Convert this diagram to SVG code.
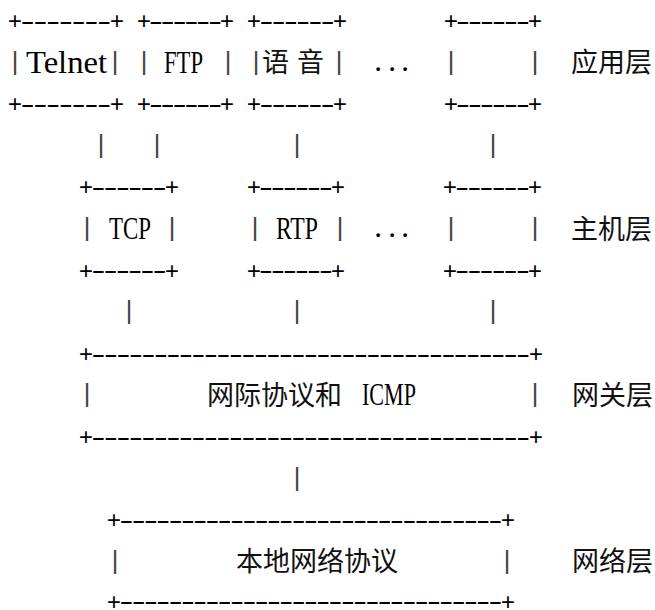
<svg xmlns="http://www.w3.org/2000/svg" width="655" height="610" viewBox="0 0 655 610">
<style>
.k { font-family: "Liberation Mono", monospace; font-size: 24px; fill: #000; text-anchor: middle; }
.h { font-family: "Liberation Mono", monospace; font-size: 38px; fill: #000; }
.p { font-family: "Liberation Mono", monospace; font-size: 26px; fill: #444; text-anchor: middle; }
.l { font-family: "Liberation Serif", serif; font-size: 31px; fill: #000; }
.d { font-family: "Liberation Serif", serif; font-size: 31px; fill: #000; text-anchor: middle; }
.c { font-family: "Noto Sans CJK SC", sans-serif; font-size: 27px; fill: #111; }
</style>
<rect width="655" height="610" fill="#fff"/>

<g id="telnet">
  <text class="k" x="15 117" y="28.9">++</text>
  <text class="h" transform="translate(16.35,28.7) scale(1,0.65)" letter-spacing="-10.05">-------</text>
  <text class="p" x="15" y="69.6">|</text>
  <text class="l" x="26" y="72.6" textLength="81" lengthAdjust="spacingAndGlyphs">Telnet</text>
  <text class="p" x="115" y="69.6">|</text>
  <text class="k" x="15 117" y="112.1">++</text>
  <text class="h" transform="translate(16.35,111.9) scale(1,0.65)" letter-spacing="-10.05">-------</text>
</g>
<g id="ftp">
  <text class="k" x="144 227" y="28.9">++</text>
  <text class="h" transform="translate(144.46,28.7) scale(1,0.65)" letter-spacing="-10.943">------</text>
  <text class="p" x="144" y="69.6">|</text>
  <text class="l" x="164" y="72.6" textLength="39" lengthAdjust="spacingAndGlyphs">FTP</text>
  <text class="p" x="228" y="69.6">|</text>
  <text class="k" x="144 227" y="112.1">++</text>
  <text class="h" transform="translate(144.46,111.9) scale(1,0.65)" letter-spacing="-10.943">------</text>
</g>
<g id="voice">
  <text class="k" x="254 340" y="28.9">++</text>
  <text class="h" transform="translate(254.89,28.7) scale(1,0.65)" letter-spacing="-10.514">------</text>
  <text class="p" x="256" y="69.6">|</text>
  <text class="c" x="262" y="72">语</text>
  <text class="c" x="297" y="72">音</text>
  <text class="p" x="339" y="69.6">|</text>
  <text class="k" x="254 340" y="112.1">++</text>
  <text class="h" transform="translate(254.89,111.9) scale(1,0.65)" letter-spacing="-10.514">------</text>
</g>
<g id="app-more">
  <text class="d" x="378 392 405" y="70.5">...</text>
</g>
<g id="app-other">
  <text class="k" x="451 535" y="28.9">++</text>
  <text class="h" transform="translate(451.6,28.7) scale(1,0.65)" letter-spacing="-10.8">------</text>
  <text class="p" x="451" y="69.6">|</text>
  <text class="p" x="535" y="69.6">|</text>
  <text class="k" x="451 535" y="112.1">++</text>
  <text class="h" transform="translate(451.6,111.9) scale(1,0.65)" letter-spacing="-10.8">------</text>
</g>
<g id="label-app"><text class="c" x="571" y="72">应用层</text></g>

<g id="tcp">
  <text class="k" x="86 172" y="195.3">++</text>
  <text class="h" transform="translate(86.89,195.1) scale(1,0.65)" letter-spacing="-10.514">------</text>
  <text class="p" x="87" y="236">|</text>
  <text class="l" x="109" y="239" textLength="42" lengthAdjust="spacingAndGlyphs">TCP</text>
  <text class="p" x="172" y="236">|</text>
  <text class="k" x="86 172" y="278.5">++</text>
  <text class="h" transform="translate(86.89,278.3) scale(1,0.65)" letter-spacing="-10.514">------</text>
</g>
<g id="rtp">
  <text class="k" x="254 338" y="195.3">++</text>
  <text class="h" transform="translate(254.6,195.1) scale(1,0.65)" letter-spacing="-10.8">------</text>
  <text class="p" x="255" y="236">|</text>
  <text class="l" x="276" y="239" textLength="42" lengthAdjust="spacingAndGlyphs">RTP</text>
  <text class="p" x="340" y="236">|</text>
  <text class="k" x="254 338" y="278.5">++</text>
  <text class="h" transform="translate(254.6,278.3) scale(1,0.65)" letter-spacing="-10.8">------</text>
</g>
<g id="host-more">
  <text class="d" x="378 392 405" y="237">...</text>
</g>
<g id="host-other">
  <text class="k" x="450 535" y="195.3">++</text>
  <text class="h" transform="translate(450.74,195.1) scale(1,0.65)" letter-spacing="-10.657">------</text>
  <text class="p" x="451" y="236">|</text>
  <text class="p" x="535" y="236">|</text>
  <text class="k" x="450 535" y="278.5">++</text>
  <text class="h" transform="translate(450.74,278.3) scale(1,0.65)" letter-spacing="-10.657">------</text>
</g>
<g id="label-host"><text class="c" x="571" y="238.5">主机层</text></g>

<g id="ip">
  <text class="k" x="86 536" y="361.7">++</text>
  <text class="h" transform="translate(87.1,361.5) scale(1,0.65)" letter-spacing="-10.3">-----------------------------------</text>
  <text class="p" x="87" y="402.4">|</text>
  <text class="c" x="207" y="405">网际协议和</text>
  <text class="l" x="362" y="405.4" textLength="54" lengthAdjust="spacingAndGlyphs">ICMP</text>
  <text class="p" x="535" y="402.4">|</text>
  <text class="k" x="86 536" y="444.9">++</text>
  <text class="h" transform="translate(87.1,444.7) scale(1,0.65)" letter-spacing="-10.3">-----------------------------------</text>
</g>
<g id="label-gateway"><text class="c" x="572" y="405">网关层</text></g>

<g id="local">
  <text class="k" x="114 508" y="528.1">++</text>
  <text class="h" transform="translate(114.91,527.9) scale(1,0.65)" letter-spacing="-10.4875">-------------------------------</text>
  <text class="p" x="115" y="568.8">|</text>
  <text class="c" x="236" y="571.3">本地网络协议</text>
  <text class="p" x="507" y="568.8">|</text>
  <text class="k" x="114 508" y="609.5">++</text>
  <text class="h" transform="translate(114.91,609.3) scale(1,0.65)" letter-spacing="-10.4875">-------------------------------</text>
</g>
<g id="label-network"><text class="c" x="572" y="571.3">网络层</text></g>

<g id="connectors">
  <text class="p" x="101" y="152.8">|</text>
  <text class="p" x="157" y="152.8">|</text>
  <text class="p" x="297" y="152.8">|</text>
  <text class="p" x="493" y="152.8">|</text>
  <text class="p" x="129" y="319.2">|</text>
  <text class="p" x="297" y="319.2">|</text>
  <text class="p" x="493" y="319.2">|</text>
  <text class="p" x="297" y="485.6">|</text>
</g>
</svg>
